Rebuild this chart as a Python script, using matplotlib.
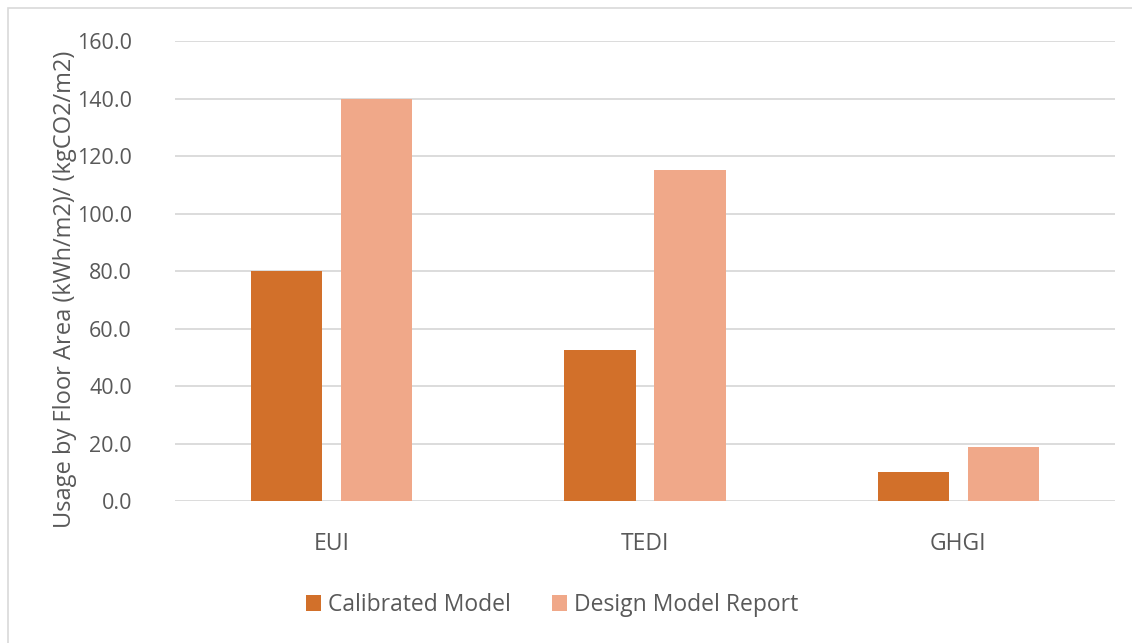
import matplotlib.pyplot as plt
import numpy as np
from matplotlib.patches import Rectangle

categories = ["EUI", "TEDI", "GHGI"]
calibrated = [80.0, 52.5, 10.1]
design_report = [140.0, 115.0, 18.9]
series_names = ["Calibrated Model", "Design Model Report"]
yticks = [0, 20, 40, 60, 80, 100, 120, 140, 160]

plt.rcParams["font.family"] = ["Open Sans", "DejaVu Sans"]
text_col = "#595959"
grid_col = "#D9D9D9"

fig = plt.figure(figsize=(11.32, 6.43), dpi=100)
ax = fig.add_axes([0.1546, 0.2208, 0.8304, 0.7154])

x = np.arange(len(categories))
w = 0.227
off = 0.1435
ax.bar(x - off, calibrated, w, color="#D2702A", label=series_names[0], zorder=3)
ax.bar(x + off, design_report, w, color="#F0A889", label=series_names[1], zorder=3)

ax.set_xlim(-0.5, len(categories) - 0.5)
ax.set_ylim(0, 160)
ax.set_yticks(yticks)
ax.set_yticklabels([f"{v:.1f}" for v in yticks])
ax.set_xticks(x)
ax.set_xticklabels(categories)
ax.tick_params(axis="both", length=0, labelsize=16.5, colors=text_col)
ax.tick_params(axis="y", pad=31, labelsize=15.5)
ax.tick_params(axis="x", pad=22)
ax.yaxis.grid(True, color=grid_col, linewidth=1.3, zorder=0)
for s in ax.spines.values():
    s.set_visible(False)

ax.set_ylabel("Usage by Floor Area (kWh/m2)/ (kgCO2/m2)", fontsize=17,
              color=text_col)
ax.yaxis.set_label_coords(-0.104, 0.461)

fig.legend(loc="center", bbox_to_anchor=(0.488, 0.059), ncol=2, frameon=False,
           fontsize=16.5, labelcolor=text_col, handlelength=0.65, handleheight=0.65,
           handletextpad=0.3, columnspacing=1.8)

# light frame around the chart area
fig.patches.append(Rectangle((8 / 1132, -0.1), 1.2, 1 - 8 / 643 + 0.1,
                             transform=fig.transFigure, fill=False,
                             edgecolor=grid_col, linewidth=1.2))

fig.savefig("out.png", dpi=100, facecolor="white")
